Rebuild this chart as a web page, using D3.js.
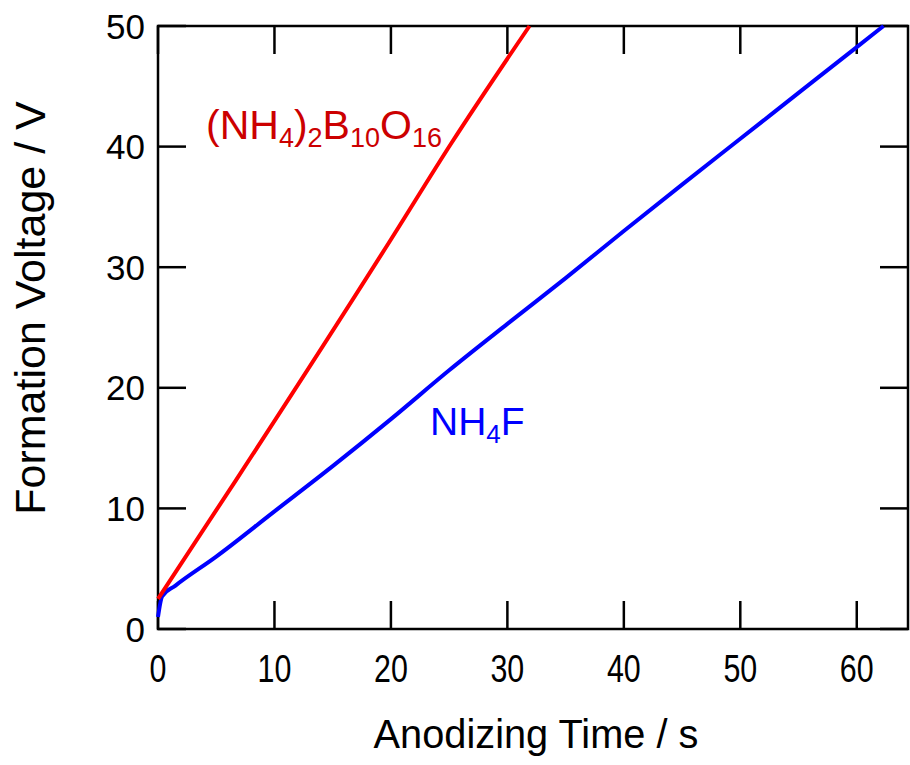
<!DOCTYPE html>
<html><head><meta charset="utf-8">
<script src="https://cdn.jsdelivr.net/npm/d3@7"></script>
<style>body{margin:0;background:#fff}svg{display:block}text{font-family:"Liberation Sans",Arial,sans-serif}</style>
</head><body><svg id="c" width="910" height="765"></svg>
<script>
const xTicks = [0,10,20,30,40,50,60];
const yTicks = [0,10,20,30,40,50];
const boratTime = [0, 6.7, 20, 25.2, 31.9];
const boratVolt = [2.5, 12.35, 32.3, 40.3, 50];
const fluorTime = [0, 0.35, 1.5, 5, 10, 15, 20, 25, 30, 35, 40, 45, 50, 55, 60, 62.3];
const fluorVolt = [1.0, 2.7, 3.6, 6.0, 9.75, 13.5, 17.4, 21.45, 25.3, 29.1, 33.0, 36.85, 40.65, 44.45, 48.25, 50];

const svg = d3.select("#c");
const L=158, R=908, T=26, B=629;
const x = d3.scaleLinear().domain([0,64.4]).range([L,R]);
const y = d3.scaleLinear().domain([0,50]).range([B,T]);
const tk = 28;

svg.append("rect").attr("x",L).attr("y",T).attr("width",R-L).attr("height",B-T)
  .attr("fill","none").attr("stroke","#000").attr("stroke-width",2.5);

const g = svg.append("g");
g.selectAll(".xb").data(xTicks).join("line")
  .attr("x1",d=>x(d)).attr("x2",d=>x(d)).attr("y1",B).attr("y2",B-tk)
  .attr("stroke","#000").attr("stroke-width",2.5);
g.selectAll(".xt").data(xTicks).join("line")
  .attr("x1",d=>x(d)).attr("x2",d=>x(d)).attr("y1",T).attr("y2",T+tk)
  .attr("stroke","#000").attr("stroke-width",2.5);
g.selectAll(".yl").data(yTicks).join("line")
  .attr("x1",L).attr("x2",L+tk).attr("y1",d=>y(d)).attr("y2",d=>y(d))
  .attr("stroke","#000").attr("stroke-width",2.5);
g.selectAll(".yr").data(yTicks).join("line")
  .attr("x1",R-tk).attr("x2",R).attr("y1",d=>y(d)).attr("y2",d=>y(d))
  .attr("stroke","#000").attr("stroke-width",2.5);

svg.selectAll(".xlab").data(xTicks).join("text")
  .attr("transform",d=>`translate(${x(d)},682) scale(0.8,1)`)
  .attr("text-anchor","middle").attr("font-size",38).text(d=>d);
svg.selectAll(".ylab").data(yTicks).join("text")
  .attr("x",145).attr("y",d=>y(d)+12.5)
  .attr("text-anchor","end").attr("font-size",35).text(d=>d);

svg.append("text").attr("transform","translate(536,748) scale(0.97,1)")
  .attr("text-anchor","middle").attr("font-size",41).text("Anodizing Time / s");
svg.append("text").attr("transform","translate(45,308) rotate(-90)")
  .attr("text-anchor","middle").attr("font-size",43).text("Formation Voltage / V");

const line = d3.line().x(d=>x(d[0])).y(d=>y(d[1])).curve(d3.curveMonotoneX);
svg.append("path").datum(fluorTime.map((t,i)=>[t,fluorVolt[i]]))
  .attr("d",line).attr("fill","none").attr("stroke","#0000ff").attr("stroke-width",4);
svg.append("path").datum(boratTime.map((t,i)=>[t,boratVolt[i]]))
  .attr("d",line).attr("fill","none").attr("stroke","#ff0000").attr("stroke-width",4);

const t1 = svg.append("text").attr("x",206).attr("y",139).attr("font-size",41).attr("fill","#cc0000");
const parts1 = [["(NH",0],["4",1],[")",0],["2",1],["B",0],["10",1],["O",0],["16",1]];
parts1.forEach(([s,sub],i)=>{
  const ts = t1.append("tspan").text(s).attr("font-size",sub?27:41);
  const prev = i>0 ? parts1[i-1][1] : 0;
  ts.attr("dy", sub && !prev ? 8 : (!sub && prev ? -8 : 0));
});
const t2 = svg.append("text").attr("x",430).attr("y",435).attr("font-size",39).attr("fill","#0000ff");
const parts2 = [["NH",0],["4",1],["F",0]];
parts2.forEach(([s,sub],i)=>{
  const ts = t2.append("tspan").text(s).attr("font-size",sub?26:39);
  const prev = i>0 ? parts2[i-1][1] : 0;
  ts.attr("dy", sub && !prev ? 8 : (!sub && prev ? -8 : 0));
});
</script></body></html>
